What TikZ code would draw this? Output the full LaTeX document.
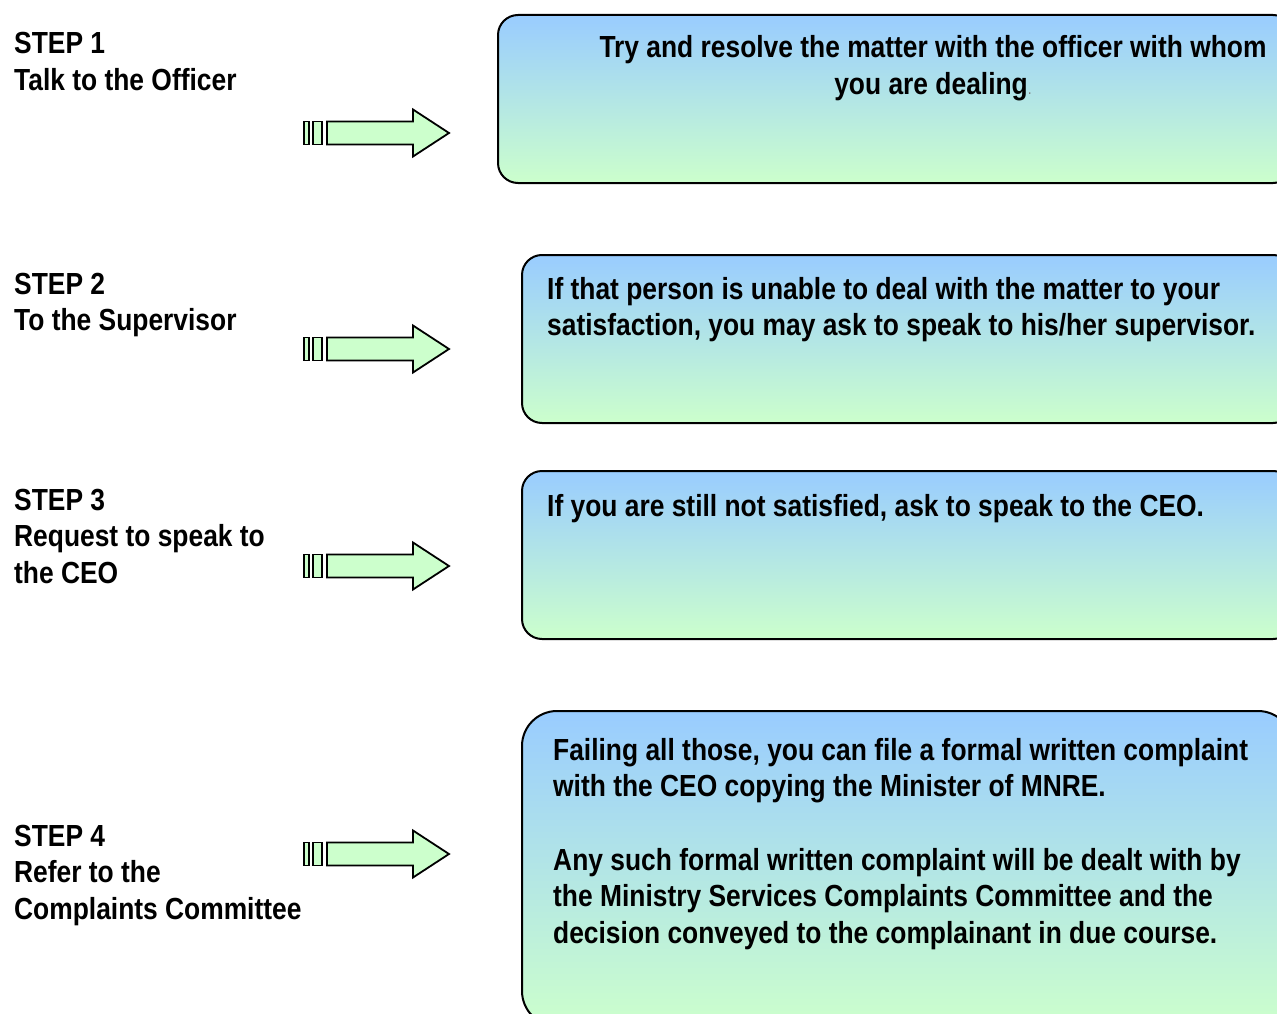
\documentclass[tikz,border=0pt]{standalone}
\usepackage{fontspec}
\setmainfont{Liberation Sans}[FakeStretch=0.865]
\definecolor{panelTop}{RGB}{153,204,255}
\definecolor{panelBottom}{RGB}{204,255,204}
\definecolor{arrowFill}{RGB}{204,255,204}
% stacked lines with a fixed baseline distance; the baseline is that of the first line
\newcommand\leftstack[1]{\vtop{\baselineskip=36.7pt\lineskiplimit=-50pt\halign{##\hfil\cr#1\crcr}}}
\newcommand\centerstack[1]{\vtop{\baselineskip=36.7pt\lineskiplimit=-50pt\halign{\hfil##\hfil\cr#1\crcr}}}
\begin{document}
\begin{tikzpicture}[x=1pt,y=-1pt,
  every node/.style={font=\fontsize{30.5}{37}\selectfont\bfseries, inner sep=0pt},
  steptext/.style={anchor=base west},
  panel/.style={draw=black, line width=2pt, top color=panelTop, bottom color=panelBottom,
    rounded corners=20pt, anchor=north west},
  arrowpart/.style={draw=black, line width=1.8pt, fill=arrowFill, line join=miter},
  pics/stepArrow/.style={code={
    \draw[arrowpart] (0,-11.5) rectangle (5,11.5);
    \draw[arrowpart] (9,-11.5) rectangle (18,11.5);
    \draw[arrowpart] (23,-11.5) -- (109,-11.5) -- (109,-23.5) -- (145,0)
       -- (109,23.5) -- (109,11.5) -- (23,11.5) -- cycle;
  }}]
\useasboundingbox (0,0) rectangle (1277,1014);
\clip (0,0) rectangle (1277,1014);

% text panels on the right
\node[panel, minimum width=795pt, minimum height=168pt] (p1) at (497,14) {};
\node[panel, minimum width=771pt, minimum height=168pt] (p2) at (521,254) {};
\node[panel, minimum width=771pt, minimum height=168pt] (p3) at (521,470) {};
\node[panel, minimum width=771pt, minimum height=315pt, rounded corners=35pt] (p4) at (521,710) {};

% block arrows
\pic at (304,133) {stepArrow};
\pic at (304,349) {stepArrow};
\pic at (304,566) {stepArrow};
\pic at (304,854) {stepArrow};

% step labels
\node[steptext] (s1) at (14,54) {\leftstack{STEP 1\cr Talk to the Officer}};
\node[steptext] (s2) at (14,294) {\leftstack{STEP 2\cr To the Supervisor}};
\node[steptext] (s3) at (14,510) {\leftstack{STEP 3\cr Request to speak to\cr the CEO}};
\node[steptext] (s4) at (14,846) {\leftstack{STEP 4\cr Refer to the\cr Complaints Committee}};

% panel texts
\node[anchor=base] (t1) at (933,58) {\centerstack{Try and resolve the matter with the officer with whom\cr
  you are dealing{\mdseries\fontsize{16}{16}\selectfont\color{gray}.}}};
\node[steptext] (t2) at (547,299) {\leftstack{If that person is unable to deal with the matter to your\cr
  satisfaction, you may ask to speak to his/her supervisor.}};
\node[steptext] (t3) at (547,516) {\leftstack{If you are still not satisfied, ask to speak to the CEO.}};
\node[steptext] (t4) at (553,760) {\leftstack{Failing all those, you can file a formal written complaint\cr
  with the CEO copying the Minister of MNRE.\cr
  \cr
  Any such formal written complaint will be dealt with by\cr
  the Ministry Services Complaints Committee and the\cr
  decision conveyed to the complainant in due course.}};
\end{tikzpicture}
\end{document}
